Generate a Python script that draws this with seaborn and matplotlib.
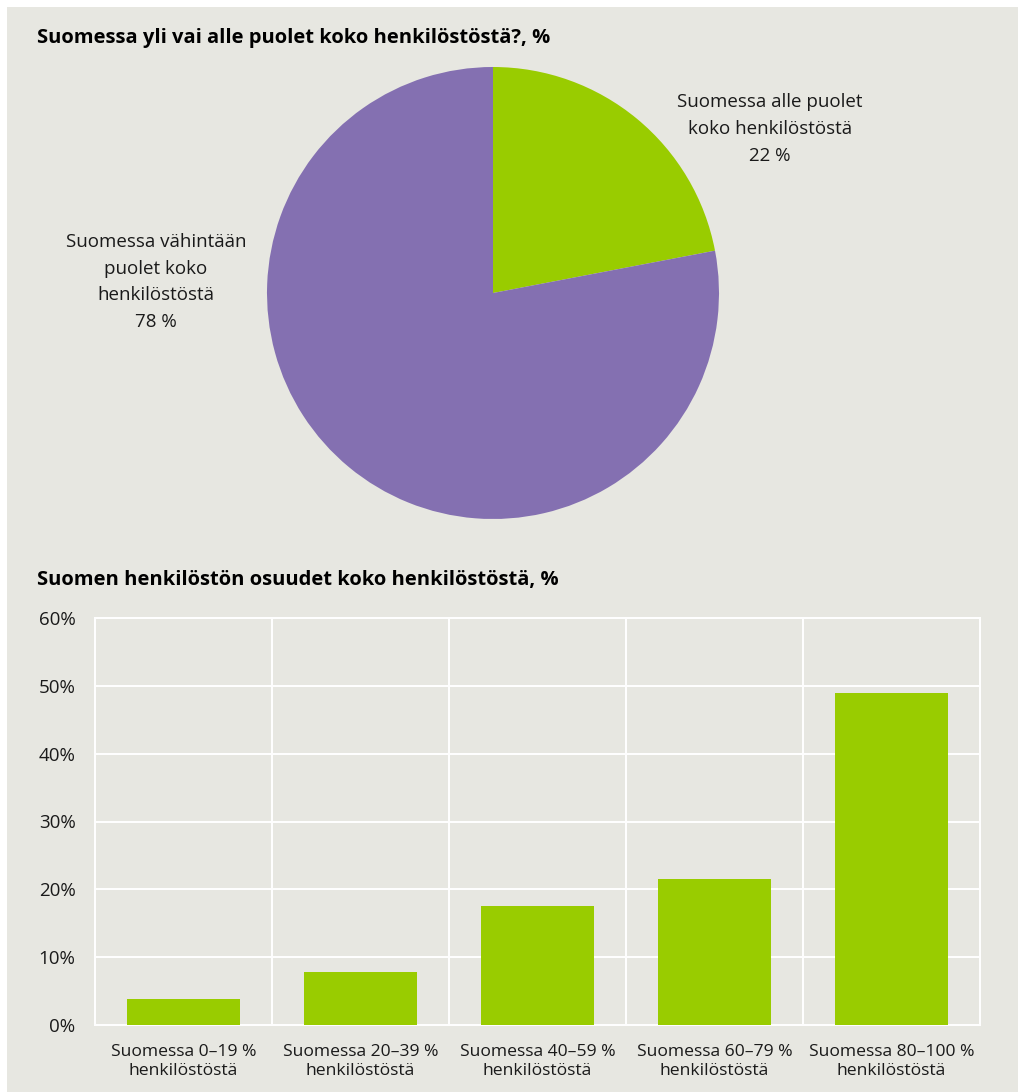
import matplotlib
matplotlib.use("Agg")
import matplotlib.pyplot as plt
from matplotlib.patches import Rectangle
import seaborn as sns
import pandas as pd

# Pie: share of staff located in Finland
pie_labels = ["Suomessa alle puolet\nkoko henkilöstöstä", "Suomessa vähintään\npuolet koko\nhenkilöstöstä"]
pie_values = [22, 78]

# Bars: distribution of companies by Finnish share of staff
bar_categories = ["Suomessa 0–19 %\nhenkilöstöstä", "Suomessa 20–39 %\nhenkilöstöstä",
                  "Suomessa 40–59 %\nhenkilöstöstä", "Suomessa 60–79 %\nhenkilöstöstä",
                  "Suomessa 80–100 %\nhenkilöstöstä"]
bar_values = [3.9, 7.8, 17.6, 21.5, 49.0]
y_ticks = [0, 10, 20, 30, 40, 50, 60]

title_pie = "Suomessa yli vai alle puolet koko henkilöstöstä?, %"
title_bar = "Suomen henkilöstön osuudet koko henkilöstöstä, %"

BG = "#E7E7E1"
GREEN = "#99CC00"
PURPLE = "#8470B1"

sns.set_theme(style="white")
plt.rcParams["font.family"] = ["Open Sans", "DejaVu Sans"]
plt.rcParams["text.color"] = "#1a1a1a"

W, H = 1018, 1092
fig = plt.figure(figsize=(W / 100, H / 100), dpi=100, facecolor="white")

# grey panel behind both charts
fig.patches.append(Rectangle((7 / W, 0), 1 - 7 / W, 1 - 7 / H, transform=fig.transFigure,
                             facecolor=BG, edgecolor="none", zorder=-10))

# ---- pie ----
cx, cy, r = 493, 293, 226
ax_pie = fig.add_axes([(cx - r) / W, (H - cy - r) / H, 2 * r / W, 2 * r / H])
ax_pie.set_facecolor("none")
ax_pie.pie(pie_values, colors=[GREEN, PURPLE], startangle=90, counterclock=False,
           radius=1, wedgeprops=dict(linewidth=0))
ax_pie.set_xlim(-1, 1)
ax_pie.set_ylim(-1, 1)
ax_pie.set_aspect("equal")
ax_pie.axis("off")

label_pos = [((770 - cx) / r, (cy - 129) / r), ((156 - cx) / r, (cy - 282) / r)]
for lab, val, (lx, ly) in zip(pie_labels, pie_values, label_pos):
    ax_pie.text(lx, ly, f"{lab}\n{val} %", ha="center", va="center", fontsize=13.5,
                linespacing=1.62, clip_on=False)

fig.text(37 / W, 1 - 38 / H, title_pie, fontsize=14.5, fontweight="bold",
         ha="left", va="center", color="black")

# ---- bars ----
left, right, top, bottom = 95, 980, 618, 1025
ax = fig.add_axes([left / W, (H - bottom) / H, (right - left) / W, (bottom - top) / H])
ax.set_facecolor(BG)
df = pd.DataFrame({"cat": bar_categories, "val": bar_values})
sns.barplot(data=df, x="cat", y="val", color=GREEN, saturation=1, width=0.64, ax=ax,
            linewidth=0, zorder=3)
ax.set_xlim(-0.5, len(bar_categories) - 0.5)
ax.set_ylim(0, 60)
ax.set_yticks(y_ticks)
ax.set_yticklabels([f"{t}%" for t in y_ticks])
ax.set_xticks(range(len(bar_categories)))
ax.set_xticklabels(bar_categories, linespacing=1.2)
ax.set_xticks([i - 0.5 for i in range(len(bar_categories) + 1)], minor=True)
ax.set_xlabel("")
ax.set_ylabel("")
ax.grid(True, axis="y", color="white", linewidth=1.4, zorder=0)
ax.grid(True, axis="x", which="minor", color="white", linewidth=1.4, zorder=0)
ax.grid(False, axis="x", which="major")
ax.set_axisbelow(True)
for s in ax.spines.values():
    s.set_color("white")
    s.set_linewidth(1.4)
ax.tick_params(axis="both", which="both", length=0, colors="#1a1a1a")
ax.tick_params(axis="y", pad=14, labelsize=13.5)
ax.tick_params(axis="x", pad=14, labelsize=12.6)

fig.text(37 / W, 1 - 580 / H, title_bar, fontsize=14.5, fontweight="bold",
         ha="left", va="center", color="black")

fig.savefig("out.png", dpi=100, facecolor="white")
